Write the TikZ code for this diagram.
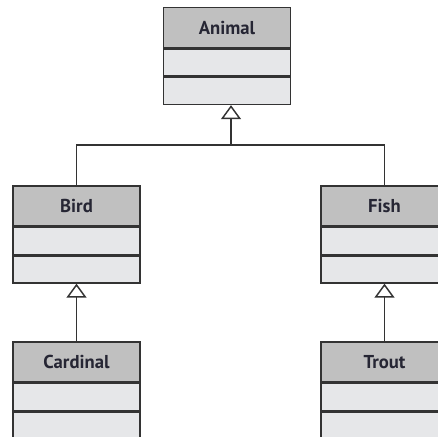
\documentclass[tikz,border=0pt]{standalone}
\usepackage{fontspec}
\setmainfont{PT Sans}
\usepackage{xcolor}
\usetikzlibrary{positioning,arrows.meta}
\definecolor{headgray}{RGB}{192,192,192}
\definecolor{partgray}{RGB}{230,231,233}
\definecolor{nametext}{RGB}{38,38,52}
\tikzset{
  classhead/.style={draw,fill=headgray,minimum width=95.25pt,minimum height=30pt,font=\fontsize{14}{16}\selectfont\bfseries,text=nametext},
  classpart/.style={draw,fill=partgray,minimum width=95.25pt,minimum height=20.25pt},
  inherit/.style={-{Triangle[open,width=15pt,length=10.5pt]}}
}
\begin{document}
\begin{tikzpicture}[x=0.75pt,y=-0.75pt,line width=1.1pt,draw=black!80]
    \useasboundingbox (0,0) rectangle (438,436);
    \clip (0,0) rectangle (438,436);
    % Animal
    \node[classhead] (anm) at (227,27.5) {Animal};
    \node[classpart,below=0pt of anm] (anm1) {};
    \node[classpart,below=0pt of anm1] (anm2) {};
    % Bird, Fish
    \node[classhead] (brd) at (76.5,206) {Bird};
    \node[classpart,below=0pt of brd] (brd1) {};
    \node[classpart,below=0pt of brd1] (brd2) {};
    \node[classhead] (fsh) at (384.5,206) {Fish};
    \node[classpart,below=0pt of fsh] (fsh1) {};
    \node[classpart,below=0pt of fsh1] (fsh2) {};
    % Cardinal, Trout
    \node[classhead] (crd) at (76.5,362) {Cardinal};
    \node[classpart,below=0pt of crd] (crd1) {};
    \node[classpart,below=0pt of crd1] (crd2) {};
    \node[classhead] (trt) at (384.5,362) {Trout};
    \node[classpart,below=0pt of trt] (trt1) {};
    \node[classpart,below=0pt of trt1] (trt2) {};
    % generalisation
    \coordinate (fork) at (231,145);
    \draw (brd.north) |- (fork) -| (fsh.north);
    \draw[inherit] (fork) -- (anm2.south -| fork);
    \draw[inherit] (crd.north) -- (brd2.south);
    \draw[inherit] (trt.north) -- (fsh2.south);
\end{tikzpicture}
\end{document}
